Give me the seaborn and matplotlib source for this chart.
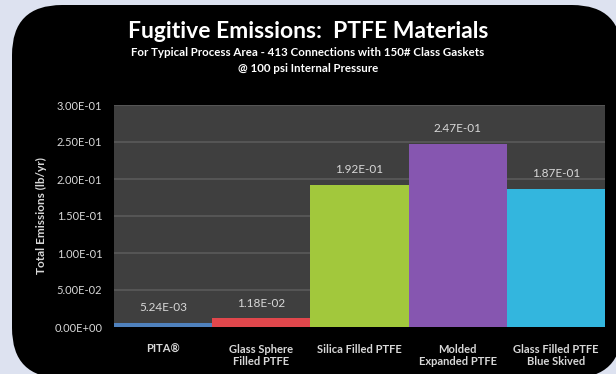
import matplotlib
matplotlib.use("Agg")
import matplotlib.pyplot as plt
from matplotlib.patches import FancyBboxPatch
from matplotlib.ticker import FuncFormatter
import seaborn as sns
import pandas as pd

categories = ["PITA\u00ae", "Glass Sphere\nFilled PTFE", "Silica Filled PTFE",
              "Molded\nExpanded PTFE", "Glass Filled PTFE\nBlue Skived"]
emissions = [5.24e-03, 1.18e-02, 1.92e-01, 2.47e-01, 1.87e-01]
value_labels = ["5.24E-03", "1.18E-02", "1.92E-01", "2.47E-01", "1.87E-01"]
bar_colors = ["#4f81bd", "#e0474c", "#a2c83c", "#8656b0", "#33b6de"]
y_ticks = [0.0, 0.05, 0.10, 0.15, 0.20, 0.25, 0.30]

sns.set_theme(style="dark")
plt.rcParams["font.family"] = ["Lato", "DejaVu Sans"]

fig = plt.figure(figsize=(6.16, 3.74), dpi=100)
fig.patch.set_facecolor("#dde2f0")

panel = FancyBboxPatch((0.12, -0.04), 6.10, 3.73,
                       boxstyle="round,pad=0,rounding_size=0.5",
                       transform=fig.dpi_scale_trans, facecolor="black",
                       edgecolor="none", zorder=-5)
fig.patches.append(panel)

ax = fig.add_axes([114 / 616, 47 / 374, 491 / 616, 222 / 374])
ax.set_zorder(2)
df = pd.DataFrame({"material": categories, "emissions": emissions})
sns.barplot(data=df, x="material", y="emissions", hue="material",
            palette=bar_colors, width=1.0, legend=False, ax=ax,
            saturation=1, zorder=3, linewidth=0)

ax.set_facecolor("#3f3f3f")
ax.set_ylim(0, 0.30)
ax.set_xlim(-0.5, 4.5)
ax.set_yticks(y_ticks)
ax.yaxis.set_major_formatter(FuncFormatter(lambda v, p: f"{v:.2E}"))
ax.grid(axis="y", color="#5a5a5a", linewidth=1.2, zorder=0)
ax.grid(axis="x", visible=False)
for s in ax.spines.values():
    s.set_visible(False)

ax.tick_params(axis="y", colors="#d8d8d8", labelsize=8, length=0, pad=8.5)
ax.tick_params(axis="x", colors="#d8d8d8", labelsize=8, length=0, pad=12)
for lbl in ax.get_xticklabels():
    lbl.set_fontweight("bold")
ax.set_xlabel("")
ax.set_ylabel("Total Emissions (lb/yr)", color="#d8d8d8", fontsize=8.5,
              fontweight="bold", labelpad=5)

for i, cont in enumerate(ax.containers):
    ax.bar_label(cont, labels=[value_labels[i]], padding=7, color="#d8d8d8",
                 fontsize=8.5)

fig.text(0.5, 1 - 32 / 374, "Fugitive Emissions:  PTFE Materials",
         ha="center", va="center", color="white", fontsize=16.5, fontweight="bold")
fig.text(0.5, 1 - 52 / 374,
         "For Typical Process Area - 413 Connections with 150# Class Gaskets",
         ha="center", va="center", color="white", fontsize=8.3, fontweight="bold")
fig.text(0.5, 1 - 68 / 374, "@ 100 psi Internal Pressure",
         ha="center", va="center", color="white", fontsize=8.3, fontweight="bold")

fig.savefig("out.png", dpi=100, facecolor=fig.get_facecolor())
